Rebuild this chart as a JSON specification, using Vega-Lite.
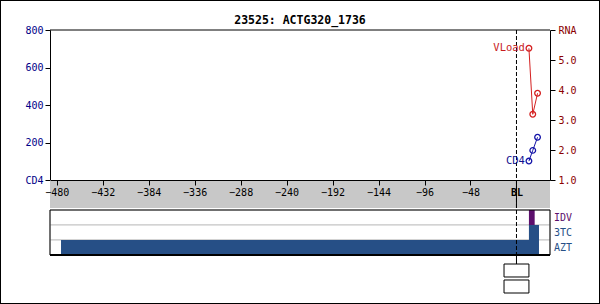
{
  "$schema": "https://vega.github.io/schema/vega-lite/v6.json",
  "width": 600,
  "height": 304,
  "padding": 0,
  "autosize": {"type": "none"},
  "background": "white",
  "title": {"text": "23525: ACTG320_1736", "font": "DejaVu Sans Mono", "fontSize": 11.5, "fontWeight": "bold", "color": "black", "anchor": "middle", "frame": "group", "baseline": "alphabetic", "offset": -24, "dy": 11},
  "config": {
    "view": {"stroke": "black", "strokeWidth": 2},
    "font": "DejaVu Sans Mono",
    "axis": {"labelFont": "DejaVu Sans Mono", "labelFontSize": 10, "domainColor": "black", "tickColor": "black", "grid": false, "zindex": 1, "labelFlush": false, "labelOverlap": false}
  },
  "datasets": {
    "cd4": [{"day": 13, "cd4": 101}, {"day": 17, "cd4": 158}, {"day": 22, "cd4": 228}],
    "vl": [{"day": 13, "rna": 5.39}, {"day": 17, "rna": 3.19}, {"day": 22, "rna": 3.89}],
    "tx": [{"drug": "IDV", "start": 13, "end": 19}, {"drug": "3TC", "start": 13, "end": 23.5}, {"drug": "AZT", "start": -475.5, "end": 23.5}],
    "lanes": [{"drug": "IDV"}, {"drug": "3TC"}, {"drug": "AZT"}],
    "one": [{}]
  },
  "layer": [
    {
      "layer": [
        {
          "data": {"name": "one"},
          "mark": {"type": "rect", "color": "#c8c8c8"},
          "encoding": {
            "x": {"datum": -487, "type": "quantitative", "title": null,
              "scale": {"domain": [-487, 35], "range": [50, 550], "nice": false, "zero": false},
              "axis": {"orient": "bottom", "offset": -124, "zindex": 2, "values": [-480, -468, -456, -444, -432, -420, -408, -396, -384, -372, -360, -348, -336, -324, -312, -300, -288, -276, -264, -252, -240, -228, -216, -204, -192, -180, -168, -156, -144, -132, -120, -108, -96, -84, -72, -60, -48, -36, -24, -12, 0, 12, 24],
                "labelExpr": "datum.value === 0 ? 'BL' : (datum.value % 48 === 0 ? datum.label : '')",
                "labelFontWeight": {"condition": {"test": "datum.value === 0", "value": "bold"}, "value": "normal"},
                "labelColor": "black", "labelPadding": 2,
                "tickSize": {"condition": {"test": "datum.value % 48 === 0", "value": 5}, "value": 3},
                "title": null}
            },
            "x2": {"datum": 35},
            "y": {"datum": 0, "type": "quantitative", "scale": {"domain": [0, 1], "range": [180, 208]}, "axis": null},
            "y2": {"datum": 1}
          }
        }
      ]
    },
    {
      "layer": [
        {
          "data": {"name": "lanes"},
          "mark": {"type": "rect", "fill": "white", "stroke": "#c4c4c4", "strokeWidth": 1},
          "encoding": {
            "x": {"datum": -487, "type": "quantitative"},
            "x2": {"datum": 35},
            "y": {"field": "drug", "type": "nominal", "scale": {"domain": ["IDV", "3TC", "AZT"], "range": [210, 255], "paddingInner": 0, "paddingOuter": 0}, "axis": null}
          }
        },
        {
          "data": {"name": "tx"},
          "mark": {"type": "rect"},
          "encoding": {
            "x": {"field": "start", "type": "quantitative", "title": null},
            "x2": {"field": "end"},
            "y": {"field": "drug", "type": "nominal"},
            "color": {"field": "drug", "type": "nominal", "scale": {"domain": ["IDV", "3TC", "AZT"], "range": ["#5c0f6c", "#264f86", "#264f86"]}, "legend": null}
          }
        },
        {
          "data": {"name": "lanes"},
          "mark": {"type": "text", "align": "left", "dx": 4, "fontSize": 10, "font": "DejaVu Sans Mono"},
          "encoding": {
            "x": {"datum": 35, "type": "quantitative"},
            "y": {"field": "drug", "type": "nominal"},
            "text": {"field": "drug"},
            "color": {"field": "drug", "type": "nominal"}
          }
        }
      ]
    },
    {
      "layer": [
        {
          "data": {"name": "one"},
          "mark": {"type": "rule", "color": "black", "strokeWidth": 1},
          "encoding": {"x": {"datum": -487}, "x2": {"datum": 35}, "y": {"datum": 800}}
        },
        {
          "data": {"name": "one"},
          "mark": {"type": "rect", "fillOpacity": 0, "stroke": "black", "strokeWidth": 1},
          "encoding": {"x": {"datum": -487}, "x2": {"datum": 35}, "y": {"datum": -160}, "y2": {"datum": -400}}
        },
        {
          "data": {"name": "one"},
          "mark": {"type": "rule", "color": "black", "strokeWidth": 2},
          "encoding": {"x": {"datum": -487}, "x2": {"datum": 35}, "y": {"datum": -400}}
        },
        {
          "data": {"name": "one"},
          "mark": {"type": "rule", "color": "black", "strokeWidth": 1, "strokeDash": [4, 2]},
          "encoding": {"x": {"datum": 0}, "y": {"datum": 800}, "y2": {"datum": -400}}
        },
        {
          "data": {"name": "one"},
          "mark": {"type": "rule", "color": "black", "strokeWidth": 1},
          "encoding": {"x": {"datum": 0}, "y": {"datum": 0}, "y2": {"datum": -149.3}}
        },
        {
          "data": {"name": "one"},
          "mark": {"type": "rule", "color": "black", "strokeWidth": 1},
          "encoding": {"x": {"datum": 0}, "y": {"datum": -400}, "y2": {"datum": -448}}
        },
        {
          "data": {"name": "one"},
          "mark": {"type": "rect", "fill": "white", "stroke": "black", "strokeWidth": 1},
          "encoding": {"x": {"datum": -13}, "x2": {"datum": 13}, "y": {"datum": -448}, "y2": {"datum": -517.3}}
        },
        {
          "data": {"name": "one"},
          "mark": {"type": "rect", "fill": "white", "stroke": "black", "strokeWidth": 1},
          "encoding": {"x": {"datum": -13}, "x2": {"datum": 13}, "y": {"datum": -533.3}, "y2": {"datum": -602.7}}
        },
        {
          "data": {"name": "cd4"},
          "mark": {"type": "line", "color": "#1414a8", "strokeWidth": 1},
          "encoding": {
            "x": {"field": "day", "type": "quantitative", "title": null},
            "y": {"field": "cd4", "type": "quantitative", "title": null,
              "scale": {"domain": [0, 800], "range": [180, 30], "nice": false, "zero": false},
              "axis": {"orient": "left", "offset": -50, "values": [0, 100, 200, 300, 400, 500, 600, 700, 800],
                "labelExpr": "datum.value === 0 ? 'CD4' : (datum.value % 200 === 0 ? datum.label : '')",
                "labelColor": "#000088", "labelPadding": 2,
                "tickSize": {"condition": {"test": "datum.value % 200 === 0", "value": 5}, "value": 3},
                "title": null}
            }
          }
        },
        {
          "data": {"name": "cd4"},
          "mark": {"type": "point", "shape": "circle", "filled": false, "color": "#1414a8", "size": 32, "strokeWidth": 1.3, "opacity": 1},
          "encoding": {"x": {"field": "day", "type": "quantitative"}, "y": {"field": "cd4", "type": "quantitative"}}
        },
        {
          "data": {"name": "cd4"},
          "transform": [{"filter": "datum.day === 13"}],
          "mark": {"type": "text", "align": "right", "dx": -4, "fontSize": 10.5, "font": "DejaVu Sans Mono", "color": "#10108c"},
          "encoding": {"x": {"field": "day", "type": "quantitative"}, "y": {"field": "cd4", "type": "quantitative"}, "text": {"value": "CD4"}}
        }
      ]
    },
    {
      "layer": [
        {
          "data": {"name": "vl"},
          "mark": {"type": "line", "color": "#d42020", "strokeWidth": 1},
          "encoding": {
            "x": {"field": "day", "type": "quantitative"},
            "y": {"field": "rna", "type": "quantitative", "title": null,
              "scale": {"domain": [1, 6], "range": [180, 30], "nice": false, "zero": false},
              "axis": {"orient": "right", "offset": -50, "values": [1, 1.5, 2, 2.5, 3, 3.5, 4, 4.5, 5, 5.5, 6],
                "labelExpr": "datum.value === 6 ? 'RNA' : (datum.value % 1 === 0 ? format(datum.value, '.1f') : '')",
                "labelColor": "#8b0000", "labelPadding": 3,
                "tickSize": {"condition": {"test": "datum.value % 1 === 0", "value": 5}, "value": 3},
                "title": null}
            }
          }
        },
        {
          "data": {"name": "vl"},
          "mark": {"type": "point", "shape": "circle", "filled": false, "color": "#d42020", "size": 32, "strokeWidth": 1.3, "opacity": 1},
          "encoding": {"x": {"field": "day", "type": "quantitative"}, "y": {"field": "rna", "type": "quantitative"}}
        },
        {
          "data": {"name": "vl"},
          "transform": [{"filter": "datum.day === 13"}],
          "mark": {"type": "text", "align": "right", "dx": -4, "fontSize": 10.5, "font": "DejaVu Sans Mono", "color": "#c81c1c"},
          "encoding": {"x": {"field": "day", "type": "quantitative"}, "y": {"field": "rna", "type": "quantitative"}, "text": {"value": "VLoad"}}
        }
      ]
    }
  ],
  "resolve": {"scale": {"y": "independent"}}
}
